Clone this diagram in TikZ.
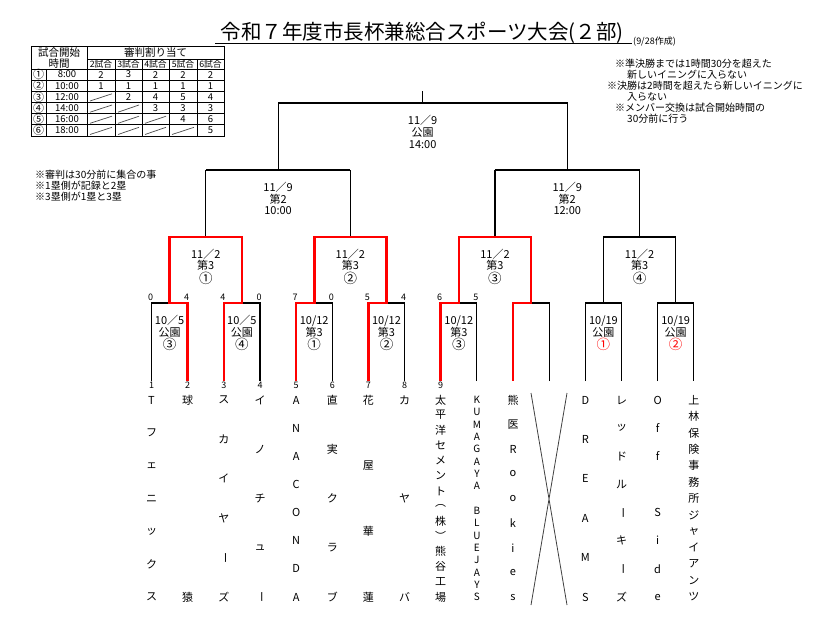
\documentclass[tikz,border=0pt]{standalone}
\usepackage{fontspec}
\setmainfont{Noto Sans CJK JP}
\usetikzlibrary{calc}
\newcommand{\vcho}{\rotatebox[origin=c]{-90}{ー}}
\newcommand{\cn}[1]{{\fontsize{13.5}{11.8}\selectfont #1}}
\begin{document}
\begin{tikzpicture}[x=1pt,y=-1pt,
  blk/.style={line width=1.1pt,black,line join=miter},
  redl/.style={line width=2.6pt,red,line join=miter},
  tbl/.style={line width=0.9pt,black},
  lab/.style={font=\fontsize{11}{11.8}\selectfont,align=center,inner sep=0pt},
  sc/.style={font=\fontsize{9}{9}\selectfont,inner sep=0pt},
  nm/.style={font=\fontsize{11}{11}\selectfont,inner sep=0pt},
  nms/.style={font=\fontsize{10}{10}\selectfont,inner sep=0pt},
  note/.style={font=\fontsize{10}{10}\selectfont,inner sep=0pt,anchor=west},
  tb/.style={font=\fontsize{9.5}{9.5}\selectfont,inner sep=0pt},
  tbc/.style={font=\fontsize{11}{11}\selectfont,inner sep=0pt},
  tbh/.style={font=\fontsize{10.5}{10.5}\selectfont,inner sep=0pt},
  slash/.style={line width=0.7pt,black!70},
]
\useasboundingbox (0,0) rectangle (829,627);
\fill[white] (0,0) rectangle (829,627);

% ---------- title ----------
\node[font=\fontsize{20.5}{21}\selectfont,inner sep=0pt,anchor=base] (title) at (422,39.5) {令和７年度市長杯兼総合スポーツ大会(２部)};
\draw[line width=1pt] (215,43) -- (632,43);
\node[font=\fontsize{9}{9}\selectfont,inner sep=0pt,anchor=west] (made) at (633,42) {(9/28作成)};

% ---------- table ----------
\draw[tbl] (31,46) rectangle (224,136);
\draw[tbl] (87,46) -- (87,136);
\draw[tbl] (46,69) -- (46,136);
\foreach \x in {115,142,169,197} \draw[tbl] (\x,59) -- (\x,136);
\draw[tbl] (87,59) -- (224,59);
\foreach \y in {69,80.2,91.3,102.5,113.7,124.8} \draw[tbl] (31,\y) -- (224,\y);
\node[tbh] (h1) at (59,52.5) {試合開始};
\node[tbh] (h2) at (59,64) {時間};
\node[tbh] (h3) at (155.5,52.5) {審判割り当て};
\foreach \x/\t [count=\k] in {101/2試合,128.5/3試合,155.5/4試合,183/5試合,210.5/6試合}
  \node[font=\fontsize{8.8}{8.8}\selectfont,inner sep=0pt] (ch\k) at (\x,64) {\t};
\foreach \y/\c/\t [count=\k] in {74.6/①/8:00,85.75/②/10:00,96.9/③/12:00,108.1/④/14:00,119.25/⑤/16:00,130.4/⑥/18:00}{
  \node[tbc] (rc\k) at (38.5,\y) {\c};
  \node[tb] (rt\k) at (67,\y) {\t};
}
\foreach \x/\t [count=\k] in {101/2,128.5/3,155.5/2,183/2,210.5/2} \node[tb] (da\k) at (\x,74.6) {\t};
\foreach \x/\t [count=\k] in {101/1,128.5/1,155.5/1,183/1,210.5/1} \node[tb] (db\k) at (\x,85.75) {\t};
\foreach \x/\t [count=\k] in {128.5/2,155.5/4,183/5,210.5/4} \node[tb] (dc\k) at (\x,96.9) {\t};
\foreach \x/\t [count=\k] in {155.5/3,183/3,210.5/3} \node[tb] (dd\k) at (\x,108.1) {\t};
\foreach \x/\t [count=\k] in {183/4,210.5/6} \node[tb] (de\k) at (\x,119.25) {\t};
\node[tb] (df1) at (210.5,130.4) {5};
% slashed cells
\foreach \l/\r/\t/\b in {87/115/91.3/102.5,
  87/115/102.5/113.7,115/142/102.5/113.7,
  87/115/113.7/124.8,115/142/113.7/124.8,142/169/113.7/124.8,
  87/115/124.8/136,115/142/124.8/136,142/169/124.8/136,169/197/124.8/136}
  \draw[slash] (\l+3,\b-1.5) -- (\r-3,\t+2.5);

% ---------- notes ----------
\node[note] (n1) at (615,64) {※準決勝までは1時間30分を超えた};
\node[note] (n2) at (627,75) {新しいイニングに入らない};
\node[note] (n3) at (607,86) {※決勝は2時間を超えたら新しいイニングに};
\node[note] (n4) at (627,97) {入らない};
\node[note] (n5) at (615,108) {※メンバー交換は試合開始時間の};
\node[note] (n6) at (627,119) {30分前に行う};
\node[note] (m1n) at (35,175) {※審判は30分前に集合の事};
\node[note] (m2n) at (35,186) {※1塁側が記録と2塁};
\node[note] (m3n) at (35,197) {※3塁側が1塁と3塁};

% ---------- bracket coordinates ----------
\foreach \i/\x in {1/151.5,2/187.7,3/223.8,4/260.0,5/296.1,6/332.3,7/368.4,8/404.6,
                   9/440.7,10/476.9,11/513.0,12/549.2,13/585.3,14/621.5,15/657.6,16/693.8}{
  \coordinate (t\i) at (\x,303);
  \coordinate (b\i) at (\x,381);
}
\foreach \k/\x in {1/169.6,2/241.9,3/314.2,4/386.5,5/458.8,6/531.1,7/603.4,8/675.7}{
  \coordinate (m\k) at (\x,303);
  \coordinate (q\k) at (\x,237);
}
\foreach \k/\x in {1/205.75,2/350.35,3/494.95,4/639.55}{
  \coordinate (s\k) at (\x,237);
  \coordinate (u\k) at (\x,170);
}
\coordinate (v1) at (278.05,170);
\coordinate (v2) at (567.25,170);
\coordinate (g1) at (278.05,103);
\coordinate (g2) at (567.25,103);
\coordinate (c0) at (422.65,103);
\coordinate (c1) at (422.65,91);

% black lines
\draw[blk] (b1) -- (t1) -- (m1);
\draw[blk] (b4) -- (t4) -- (m2);
\draw[blk] (b6) -- (t6) -- (m3);
\draw[blk] (b8) -- (t8) -- (m4);
\draw[blk] (b10) -- (t10) -- (m5);
\draw[blk] (b12) -- (t12) -- (m6);
\draw[blk] (b13) -- (t13) -- (t14) -- (b14);
\draw[blk] (b15) -- (t15) -- (t16) -- (b16);
\draw[blk] (m7) -- (q7) -- (q8) -- (m8);
\foreach \k in {1,2,3,4} \draw[blk] (s\k) -- (u\k);
\draw[blk] (u1) -- (u2);
\draw[blk] (u3) -- (u4);
\draw[blk] (v1) -- (g1) -- (g2) -- (v2);
\draw[blk] (c0) -- (c1);
\foreach \i in {2,3,5,7,9,11} \draw[blk] (t\i) -- (b\i);

% red winner lines
\draw[redl] (b2) -- (t2) -- (m1) -- (q1) -- (q2) -- (m2) -- (t3) -- (b3);
\draw[redl] (b5) -- (t5) -- (m3) -- (q3) -- (q4) -- (m4) -- (t7) -- (b7);
\draw[redl] (b9) -- (t9) -- (m5) -- (q5) -- (q6) -- (m6) -- (t11) -- (b11);

% ---------- bracket labels ----------
\node[lab] (lf) at (422.65,132) {11／9\\公園\\14:00};
\node[lab] (l21) at (278.05,198.5) {11／9\\第2\\10:00};
\node[lab] (l22) at (567.25,198.5) {11／9\\第2\\12:00};
\node[lab] (l31) at (205.75,266.5) {11／2\\第3\\\cn{①}};
\node[lab] (l32) at (350.35,266.5) {11／2\\第3\\\cn{②}};
\node[lab] (l33) at (494.95,266.5) {11／2\\第3\\\cn{③}};
\node[lab] (l34) at (639.55,266.5) {11／2\\第3\\\cn{④}};
\node[lab] (l41) at (169.6,333) {10／5\\公園\\\cn{③}};
\node[lab] (l42) at (241.9,333) {10／5\\公園\\\cn{④}};
\node[lab] (l43) at (314.2,333) {10/12\\第3\\\cn{①}};
\node[lab] (l44) at (386.5,333) {10/12\\第3\\\cn{②}};
\node[lab] (l45) at (458.8,333) {10/12\\第3\\\cn{③}};
\node[lab] (l47) at (603.4,333) {10/19\\公園\\\textcolor{red}{\cn{①}}};
\node[lab] (l48) at (675.7,333) {10/19\\公園\\\textcolor{red}{\cn{②}}};

% scores
\foreach \i/\s in {1/0,2/4,3/4,4/0,5/7,6/0,7/5,8/4,9/6,10/5}
  \node[sc,anchor=south] (sc\i) at ([xshift=-1pt,yshift=2.5pt]t\i) {\s};
% line numbers
\foreach \i in {1,...,9}
  \node[sc,anchor=north] (num\i) at ([yshift=-1pt]b\i) {\i};

% ---------- team names ----------
\newcommand{\vname}[4]{%
  \foreach \c [count=\k] in {#4}{
    \node[#2] (tm#1-\k) at ($(b#1)+(0,{19+(\k-1)*197/(#3-1)})$) {\c};
  }%
}
\vname{1}{nm}{7}{T,フ,ェ,ニ,ッ,ク,ス}
\vname{2}{nm}{2}{球,猿}
\vname{3}{nm}{6}{ス,カ,イ,ヤ,\vcho,ズ}
\vname{4}{nm}{5}{イ,ノ,チ,ュ,\vcho}
\vname{5}{nm}{8}{A,N,A,C,O,N,D,A}
\vname{6}{nm}{5}{直,実,ク,ラ,ブ}
\vname{7}{nm}{4}{花,屋,華,蓮}
\vname{8}{nm}{3}{カ,ヤ,バ}
\vname{9}{nm}{14}{太,平,洋,セ,メ,ン,ト,︵,株,︶,熊,谷,工,場}
\vname{10}{nms}{17}{K,U,M,A,G,A,Y,A,{},B,L,U,E,J,A,Y,S}
\vname{11}{nm}{9}{熊,医,R,o,o,k,i,e,s}
\vname{13}{nm}{6}{D,R,E,A,M,S}
\vname{14}{nm}{8}{レ,ッ,ド,ル,\vcho,キ,\vcho,ズ}
\vname{15}{nm}{8}{O,f,f,{},S,i,d,e}
\vname{16}{nm}{13}{上,林,保,険,事,務,所,ジ,ャ,イ,ア,ン,ツ}

% cross for empty slot
\coordinate (x1) at (531,393);
\coordinate (x2) at (567,605);
\coordinate (x3) at (567,393);
\coordinate (x4) at (531,605);
\draw[line width=0.8pt,black!75] (x1) -- (x2) (x3) -- (x4);
\end{tikzpicture}
\end{document}
